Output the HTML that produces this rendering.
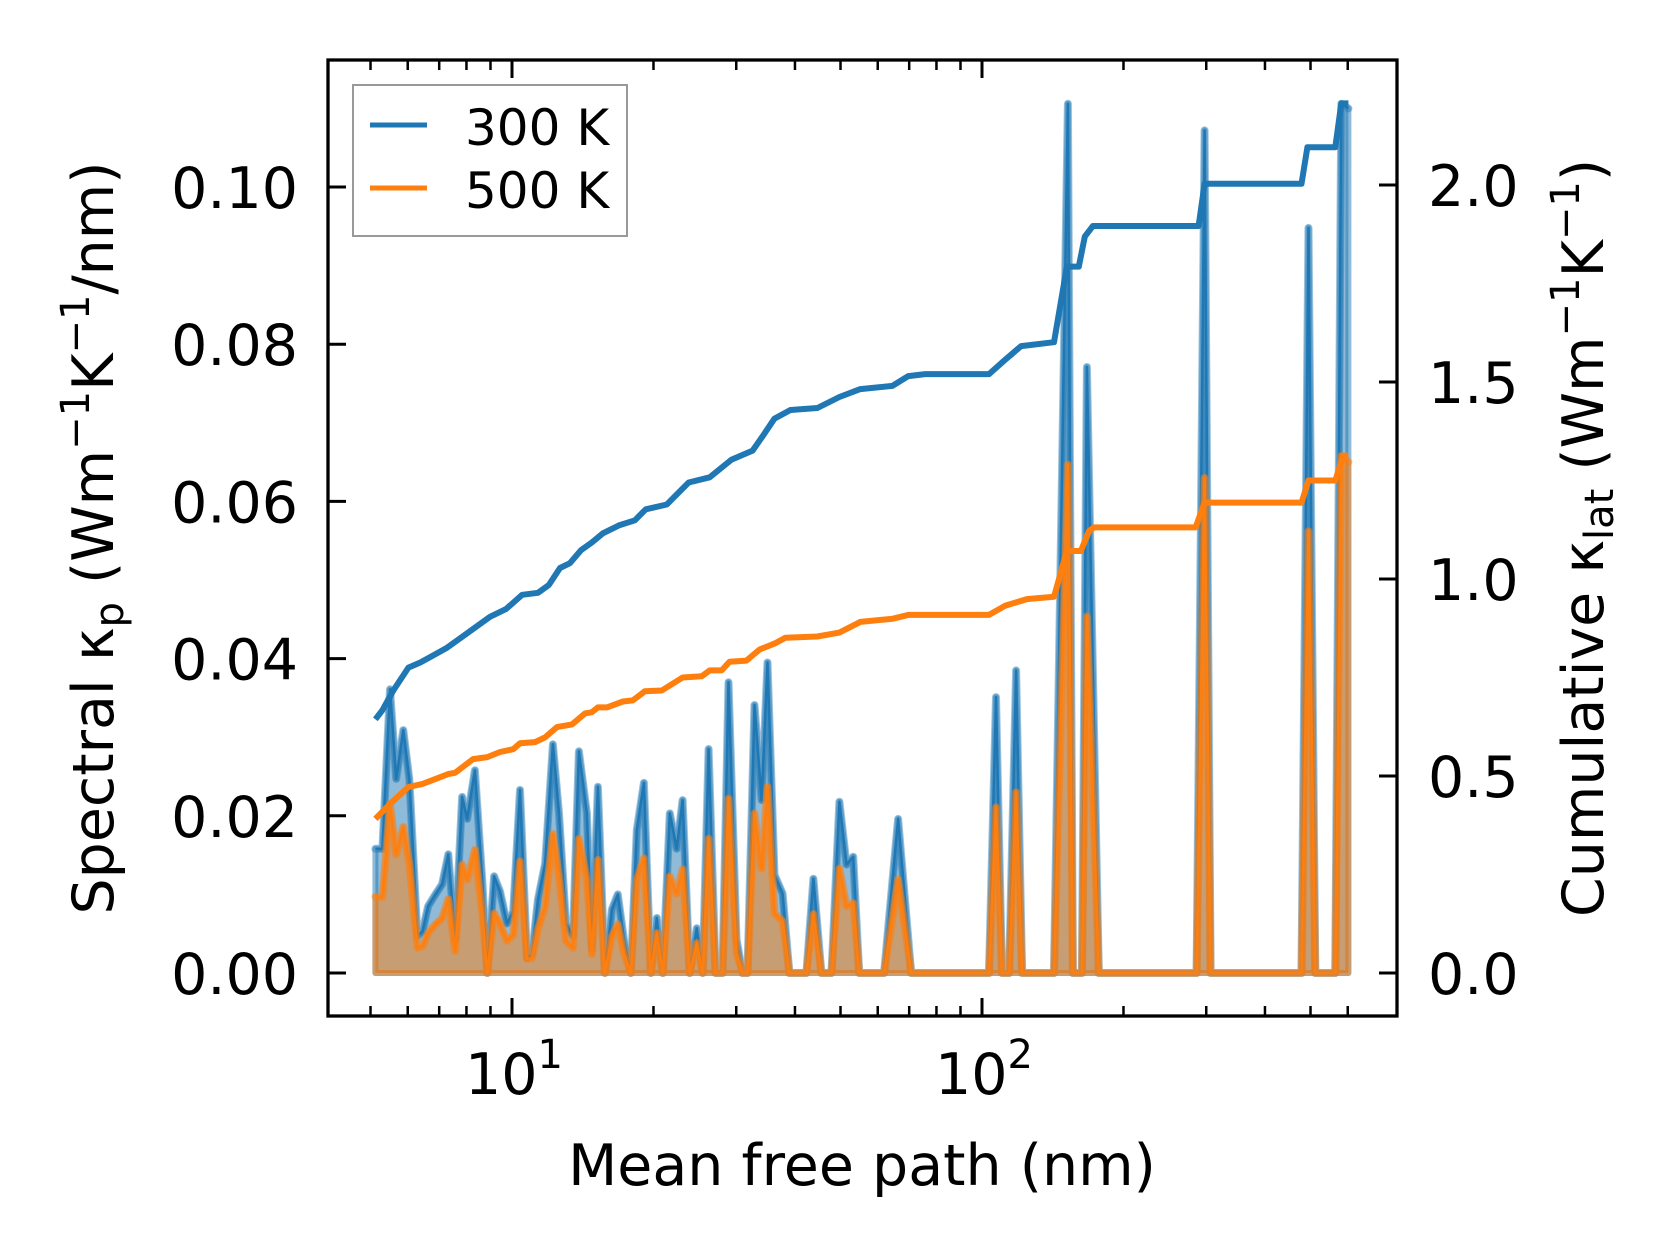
<!DOCTYPE html>
<html><head><meta charset="utf-8"><style>
html,body{margin:0;padding:0;background:#fff;}
svg{display:block;font-family:"DejaVu Sans","Liberation Sans",sans-serif;}
</style></head><body>
<svg id="chart" width="1679" height="1254" viewBox="0 0 1679 1254" xmlns="http://www.w3.org/2000/svg">
<g id="plot"></g>
<g id="axes"></g>
</svg>
<script>
const mfp = [5.12,5.30,5.50,5.67,5.87,6.05,6.29,6.45,6.63,6.87,7.10,7.32,7.57,7.83,8.03,8.34,8.64,8.86,9.16,9.43,9.76,10.06,10.40,10.76,11.03,11.36,11.76,12.22,12.59,13.03,13.48,13.88,14.43,14.79,15.23,15.76,16.31,16.79,17.30,17.90,18.43,19.08,19.74,20.33,20.93,21.66,22.41,23.07,23.88,24.71,25.45,26.20,27.11,28.05,28.88,30.04,30.93,31.70,32.81,33.96,34.97,36.19,37.64,38.93,42.31,43.79,45.54,47.83,49.73,51.5,53.2,54.8,61.9,66.3,70.7,103.5,107.1,110.3,114.2,118.2,121.7,142.3,152.3,156.1,163.1,167.2,177.2,286.2,297.6,306.4,478.3,495.0,511.9,564.6,581.4,601.9];
const spec300 = [0.0158,0.0158,0.0361,0.0247,0.0309,0.0246,0.0047,0.0053,0.0085,0.0100,0.0113,0.0151,0.0043,0.0224,0.0196,0.0258,0.0119,0,0.0123,0.0104,0.0063,0.0078,0.0233,0.0019,0.0024,0.0094,0.0139,0.0291,0.0203,0.0063,0.0047,0.0282,0.0203,0.0030,0.0237,0,0.0081,0.0100,0.0043,0,0.0182,0.0242,0,0.0070,0,0.0203,0.0158,0.0220,0,0.0057,0,0.0285,0,0,0.0370,0.0043,0,0,0.0341,0.0220,0.0395,0.0125,0.0101,0,0,0.0120,0,0,0.0218,0.0138,0.0148,0,0,0.0196,0,0,0.0351,0,0,0.0385,0,0,0.1106,0,0,0.0771,0,0,0.1072,0,0,0.0948,0,0,0.1106,0.1100];
const spec500 = [0.0097,0.0097,0.0215,0.0151,0.0186,0.0139,0.0032,0.0034,0.0051,0.0062,0.0070,0.0094,0.0028,0.0138,0.0119,0.0157,0.0076,0,0.0076,0.0063,0.0041,0.0049,0.0142,0.0018,0.0019,0.0056,0.0085,0.0177,0.0123,0.0041,0.0032,0.0171,0.0119,0.0024,0.0144,0,0.0047,0.0062,0.0025,0,0.0119,0.0146,0,0.0051,0,0.0123,0.0101,0.0132,0,0.0038,0,0.0171,0,0,0.0222,0.0025,0,0,0.0203,0.0133,0.0237,0.0076,0.0066,0,0,0.0075,0,0,0.0133,0.0085,0.0089,0,0,0.0119,0,0,0.0211,0,0,0.0230,0,0,0.0647,0,0,0.0454,0,0,0.0630,0,0,0.0562,0,0,0.0658,0.0650];
const cumX300 = [5.12,5.30,5.59,6.02,6.38,6.80,7.28,8.98,9.72,10.51,11.36,11.98,12.65,13.28,14.02,14.79,15.61,16.88,18.26,19.26,21.35,22.52,23.77,26.34,29.33,32.50,34.30,36.19,39.12,44.64,49.73,55.10,64.43,69.68,75.71,103.5,111.9,121.1,142.3,151.6,160.7,165.5,172.2,288.9,297.6,478.3,492.4,564.6,581.4,601.9];
const cum300 = [0.644,0.667,0.717,0.775,0.788,0.806,0.826,0.904,0.924,0.960,0.965,0.985,1.028,1.040,1.073,1.093,1.116,1.136,1.149,1.177,1.189,1.217,1.245,1.258,1.303,1.326,1.366,1.407,1.429,1.434,1.462,1.482,1.490,1.515,1.520,1.520,1.556,1.591,1.601,1.793,1.793,1.869,1.896,1.896,2.003,2.003,2.096,2.096,2.207,2.207];
const cumX500 = [5.12,5.50,6.02,6.45,7.03,7.32,7.57,8.26,8.86,9.43,10.06,10.40,11.19,11.76,12.46,13.42,14.30,14.79,15.23,15.92,17.22,18.07,19.17,20.83,23.07,25.33,26.34,27.92,29.04,31.55,33.64,36.19,38.18,44.64,49.73,55.10,64.43,69.68,103.5,111.9,124.6,142.3,151.6,162.3,168.8,173.0,284.7,297.6,478.3,495.0,564.6,587.1,601.9];
const cum500 = [0.391,0.429,0.472,0.480,0.497,0.505,0.508,0.543,0.548,0.561,0.568,0.583,0.586,0.598,0.624,0.631,0.659,0.662,0.674,0.674,0.689,0.692,0.715,0.717,0.750,0.753,0.768,0.768,0.790,0.793,0.821,0.836,0.851,0.854,0.864,0.891,0.899,0.909,0.909,0.932,0.949,0.955,1.071,1.071,1.121,1.131,1.131,1.194,1.194,1.250,1.250,1.313,1.313];
const leftTicks = [0, 0.02, 0.04, 0.06, 0.08, 0.10];
const leftTickLabels = ["0.00","0.02","0.04","0.06","0.08","0.10"];
const rightTicks = [0, 0.5, 1.0, 1.5, 2.0];
const rightTickLabels = ["0.0","0.5","1.0","1.5","2.0"];
const xMajor = [10, 100];
const xMajorExp = ["1","2"];
const xMinor = [5,6,7,8,9,20,30,40,50,60,70,80,90,200,300,400,500,600];

const L=328,R=1397,T=60,B=1016;
const xs = v => 512 + 470*(Math.log10(v)-1);
const ys = v => 973 - v*7860;
const yr = v => 973 - v*394;
const NS="http://www.w3.org/2000/svg";
const plot=document.getElementById('plot'), axes=document.getElementById('axes');
function mk(tag, attrs, parent){const e=document.createElementNS(NS,tag);for(const k in attrs)e.setAttribute(k,attrs[k]);parent.appendChild(e);return e;}
const BLUE="#1f77b4", ORANGE="#ff7f0e";

function spectral(vals, color, name){
  let pts = mfp.map((x,i)=>xs(x).toFixed(1)+","+ys(vals[i]).toFixed(1));
  const base = xs(mfp[mfp.length-1]).toFixed(1)+","+ys(0)+" "+xs(mfp[0]).toFixed(1)+","+ys(0);
  const f = mk('polygon',{points:pts.join(" ")+" "+base, fill:color,'fill-opacity':0.5,stroke:color,'stroke-opacity':0.5,'stroke-width':6,'stroke-linejoin':'round'},plot);
  
  
  const t = mk('polyline',{points:pts.join(" "),fill:'none',stroke:color,'stroke-opacity':0.45,'stroke-width':8,'stroke-linejoin':'round','stroke-linecap':'round'},plot);
  
  
  const l = mk('polyline',{points:pts.join(" "),fill:'none',stroke:color,'stroke-width':2.5,'stroke-linejoin':'round'},plot);
  
  
}
spectral(spec300, BLUE, 'spectral-300k');
spectral(spec500, ORANGE, 'spectral-500k');
function cumul(xv, vals, color, name){
  const pts = xv.map((x,i)=>xs(x).toFixed(1)+","+yr(vals[i]).toFixed(1)).join(" ");
  const l = mk('polyline',{points:pts,fill:'none',stroke:color,'stroke-width':6,'stroke-linejoin':'round'},plot);
  
  
}
cumul(cumX300, cum300, BLUE, 'cumulative-300k');
cumul(cumX500, cum500, ORANGE, 'cumulative-500k');

const sp = mk('rect',{x:L,y:T,width:R-L,height:B-T,fill:'none',stroke:'#000','stroke-width':3.3},axes);


xMajor.forEach((v,i)=>{
  const X=xs(v);
  const a=mk('line',{x1:X,x2:X,y1:B,y2:B-18,stroke:'#000','stroke-width':3},axes);
  
  
  const b=mk('line',{x1:X,x2:X,y1:T,y2:T+18,stroke:'#000','stroke-width':3},axes);
  
  
  const t=mk('text',{x:X+2,y:1094,'font-size':57,'text-anchor':'middle'},axes);
  
  
  t.innerHTML = '10<tspan font-size="40" dy="-26">'+xMajorExp[i]+'</tspan>';
});
xMinor.forEach(v=>{
  const X=xs(v);
  const a=mk('line',{x1:X,x2:X,y1:B,y2:B-10,stroke:'#000','stroke-width':2.5},axes);
  
  
  const b=mk('line',{x1:X,x2:X,y1:T,y2:T+10,stroke:'#000','stroke-width':2.5},axes);
  
  
});
leftTicks.forEach((v,i)=>{
  const Y=ys(v);
  const a=mk('line',{x1:L,x2:L+18,y1:Y,y2:Y,stroke:'#000','stroke-width':3},axes);
  
  
  const t=mk('text',{x:298,y:Y+21,'font-size':57,'text-anchor':'end'},axes);
  
  
  t.textContent=leftTickLabels[i];
});
rightTicks.forEach((v,i)=>{
  const Y=yr(v);
  const a=mk('line',{x1:R,x2:R-18,y1:Y,y2:Y,stroke:'#000','stroke-width':3},axes);
  
  
  const t=mk('text',{x:1428,y:Y+21,'font-size':57,'text-anchor':'start'},axes);
  
  
  t.textContent=rightTickLabels[i];
});
</script>
<svg style="position:absolute;left:0;top:0" width="1679" height="1254" xmlns="http://www.w3.org/2000/svg">
<text x="862" y="1185" font-size="57" text-anchor="middle" font-family="DejaVu Sans, Liberation Sans, sans-serif">Mean free path (nm)</text>
<text transform="translate(113,538) rotate(-90)" font-size="57" text-anchor="middle" font-family="DejaVu Sans, Liberation Sans, sans-serif">Spectral κ<tspan font-size="40" dy="10">p</tspan><tspan dy="-10"> (Wm</tspan><tspan font-size="40" dy="-24">−1</tspan><tspan dy="24">K</tspan><tspan font-size="40" dy="-24">−1</tspan><tspan dy="24">/nm)</tspan></text>
<text transform="translate(1603,538) rotate(-90)" font-size="57" text-anchor="middle" font-family="DejaVu Sans, Liberation Sans, sans-serif">Cumulative κ<tspan font-size="40" dy="10">lat</tspan><tspan dy="-10"> (Wm</tspan><tspan font-size="40" dy="-24">−1</tspan><tspan dy="24">K</tspan><tspan font-size="40" dy="-24">−1</tspan><tspan dy="24">)</tspan></text>
<g>
<rect x="353" y="85" width="274" height="151" fill="#fff" fill-opacity="0.8" stroke="#999" stroke-width="2"/>
<line x1="370" x2="427" y1="125" y2="125" stroke="#1f77b4" stroke-width="5"/>
<text x="465" y="145" font-size="50" font-family="DejaVu Sans, Liberation Sans, sans-serif">300 K</text>
<line x1="370" x2="427" y1="188" y2="188" stroke="#ff7f0e" stroke-width="5"/>
<text x="465" y="208" font-size="50" font-family="DejaVu Sans, Liberation Sans, sans-serif">500 K</text>
</g>
</svg>
</body></html>
